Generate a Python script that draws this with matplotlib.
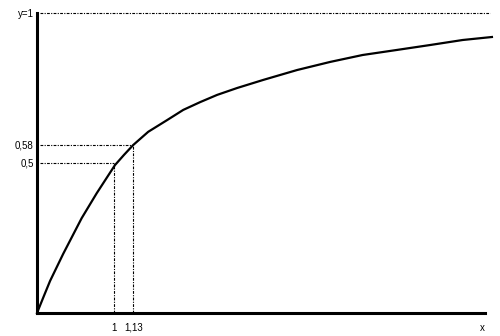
import matplotlib
matplotlib.use("Agg")
import matplotlib.pyplot as plt

# curve (x in axis units, 1 unit = distance to the "1" tick)
curve_x = [0.0, 0.09, 0.17, 0.34, 0.58, 0.775, 1.013, 1.13, 1.25, 1.445,
           1.69, 1.90, 2.12, 2.34, 2.60, 2.94, 3.38, 3.81, 4.23, 4.68, 5.10,
           5.53, 5.91]
curve_y = [0.0, 0.057, 0.107, 0.197, 0.316, 0.399, 0.493, 0.527, 0.56, 0.604,
           0.643, 0.677, 0.703, 0.727, 0.75, 0.777, 0.81, 0.837, 0.86, 0.877,
           0.893, 0.91, 0.92]

# marked points (drawn where the picture puts them)
mark_x = [1.0, 1.25]
mark_y = [0.5, 0.56]
x_labels = ["1", "1,13"]
y_labels = ["0,5", "0,58"]

fig = plt.figure(figsize=(5, 3.36), dpi=100)
ax = fig.add_axes([37 / 500, 23 / 336, 448 / 500, 300 / 336])
ax.set_xlim(0, 5.82)
ax.set_ylim(0, 1)

ax.plot(curve_x, curve_y, color="black", lw=1.6, clip_on=False, zorder=3,
        solid_joinstyle="round")

dots = (0, (2.5, 1.2, 1, 1.2))
for mx, my in zip(mark_x, mark_y):
    ax.plot([0.04, mx], [my, my], color="black", lw=0.8, ls=dots)
    ax.plot([mx, mx], [0, my], color="black", lw=0.8, ls=dots)
ax.plot([0.04, 5.88], [1, 1], color="black", lw=0.8, ls=dots, clip_on=False)

for s in ["top", "right"]:
    ax.spines[s].set_visible(False)
ax.spines["left"].set_linewidth(2.2)
ax.spines["bottom"].set_linewidth(2.2)

ax.set_xticks(mark_x + [5.78])
ax.set_xticklabels(x_labels + ["x"])
ax.set_yticks(mark_y + [1.0])
ax.set_yticklabels(y_labels + ["y=1"])
ax.tick_params(axis="x", length=0, pad=7, labelsize=7)
ax.tick_params(axis="y", length=0, pad=2.5, labelsize=7)
for t in ax.get_xticklabels() + ax.get_yticklabels():
    t.set_fontfamily("Liberation Sans")

fig.savefig("out.png", dpi=100)
